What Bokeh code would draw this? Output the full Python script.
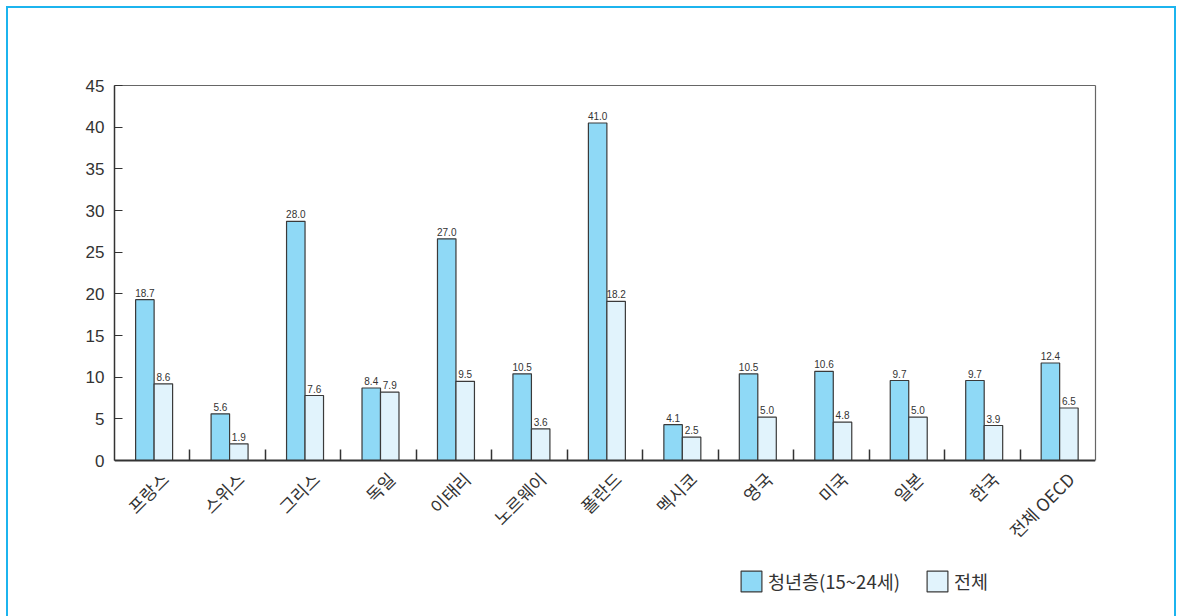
import math
from bokeh.plotting import figure
from bokeh.models import (ColumnDataSource, Range1d, FixedTicker, Legend, LegendItem,
                          LinearAxis)
from bokeh.transform import dodge
from bokeh.core.properties import value
from bokeh.embed import file_html
from bokeh.resources import INLINE

countries = ["프랑스", "스위스", "그리스", "독일", "이태리", "노르웨이", "폴란드",
             "멕시코", "영국", "미국", "일본", "한국", "전체 OECD"]
youth = [19.3, 5.6, 28.7, 8.7, 26.6, 10.4, 40.5, 4.3, 10.4, 10.7, 9.6, 9.6, 11.7]
total = [9.2, 2.0, 7.8, 8.2, 9.5, 3.8, 19.1, 2.8, 5.2, 4.6, 5.2, 4.2, 6.3]
youth_labels = ["18.7", "5.6", "28.0", "8.4", "27.0", "10.5", "41.0",
                "4.1", "10.5", "10.6", "9.7", "9.7", "12.4"]
total_labels = ["8.6", "1.9", "7.6", "7.9", "9.5", "3.6", "18.2",
                "2.5", "5.0", "4.8", "5.0", "3.9", "6.5"]
y_ticks = [0, 5, 10, 15, 20, 25, 30, 35, 40, 45]
series_names = ["청년층(15~24세)", "전체"]

n = len(countries)
centers = [i + 0.5 for i in range(n)]
source = ColumnDataSource(dict(x=centers, youth=youth, total=total,
                               youth_label=youth_labels, total_label=total_labels))

# layout geometry (pixels)
y_max = 45
plot_px = 375            # pixel height of the 0..45 band
frame_h = 531            # frame extends below the axis to hold the tick labels and legend
y_min = -(frame_h - plot_px) * y_max / plot_px

p = figure(frame_width=981, frame_height=frame_h,
           x_range=Range1d(0, n), y_range=Range1d(y_min, y_max),
           output_backend="svg", toolbar_location=None,
           min_border_left=106, min_border_right=79, min_border_top=77, min_border_bottom=0,
           styles={"border-top": "2px solid #1cb4ee", "border-left": "2px solid #1cb4ee",
                   "border-right": "2px solid #1cb4ee", "margin-left": "6px", "margin-top": "6px"})

p.xgrid.grid_line_color = None
p.ygrid.grid_line_color = None
p.outline_line_color = None
p.background_fill_color = "white"
p.border_fill_color = "white"

bw = 0.245
shift = 0.025
r1 = p.vbar(x=dodge("x", -bw / 2 + shift, range=p.x_range), top="youth", bottom=0, width=bw,
            source=source, fill_color="#8fd9f6", line_color="#3a3a3a", line_width=1.2)
r2 = p.vbar(x=dodge("x", bw / 2 + shift, range=p.x_range), top="total", bottom=0, width=bw,
            source=source, fill_color="#e1f3fc", line_color="#3a3a3a", line_width=1.2)

p.text(x=dodge("x", -bw / 2 + shift, range=p.x_range), y="youth", text="youth_label", source=source,
       y_offset=-3, text_align="center", text_baseline="bottom",
       text_font=value("Liberation Sans"), text_font_size="10px", text_color="#333333")
p.text(x=dodge("x", bw / 2 + shift, range=p.x_range), y="total", text="total_label", source=source,
       y_offset=-3, text_align="center", text_baseline="bottom",
       text_font=value("Liberation Sans"), text_font_size="10px", text_color="#333333")

# x axis drawn at y = 0 inside the extended frame
label_shift = 0.17
label_pos = [c + label_shift for c in centers]
xa = p.xaxis[0]
xa.fixed_location = 0
xa.ticker = FixedTicker(ticks=label_pos, minor_ticks=list(range(1, n)))
xa.major_label_overrides = {c: name for c, name in zip(label_pos, countries)}
xa.major_tick_line_color = None
xa.major_tick_in = 0
xa.major_tick_out = 0
xa.minor_tick_in = 11
xa.minor_tick_out = 0
xa.minor_tick_line_color = "#333333"
xa.minor_tick_line_width = 1.5
xa.major_label_orientation = math.pi / 4
xa.major_label_text_font = "Noto Sans CJK KR"
xa.major_label_text_font_size = "17.5px"
xa.major_label_text_color = "#333333"
xa.major_label_standoff = 15
xa.axis_line_color = "#333333"
xa.axis_line_width = 2

ya = p.yaxis[0]
ya.bounds = (0, y_max)
ya.ticker = FixedTicker(ticks=y_ticks)
ya.major_tick_in = 8
ya.major_tick_out = 0
ya.minor_tick_line_color = None
ya.major_tick_line_color = "#333333"
ya.major_label_text_font = "Liberation Sans"
ya.major_label_text_font_size = "17px"
ya.major_label_text_color = "#333333"
ya.major_label_standoff = 10
ya.axis_line_color = "#333333"
ya.axis_line_width = 1.5

top_axis = LinearAxis(ticker=FixedTicker(ticks=[]), axis_line_color="#666666",
                      axis_line_width=1.2, major_tick_line_color=None,
                      minor_tick_line_color=None)
p.add_layout(top_axis, "above")
right_axis = LinearAxis(ticker=FixedTicker(ticks=[]), bounds=(0, y_max),
                        axis_line_color="#666666", axis_line_width=1.2,
                        major_tick_line_color=None, minor_tick_line_color=None)
p.add_layout(right_axis, "right")

legend = Legend(items=[LegendItem(label=series_names[0], renderers=[r1]),
                       LegendItem(label=series_names[1], renderers=[r2])],
                orientation="horizontal", location=(624, 22),
                label_text_font="Noto Sans CJK KR", label_text_font_size="18.5px",
                label_text_color="#333333",
                glyph_width=26, glyph_height=26, spacing=24, padding=0, margin=0,
                label_standoff=4, border_line_color=None, background_fill_alpha=0)
p.add_layout(legend, "center")

open("out.html", "w").write(file_html(p, INLINE))
